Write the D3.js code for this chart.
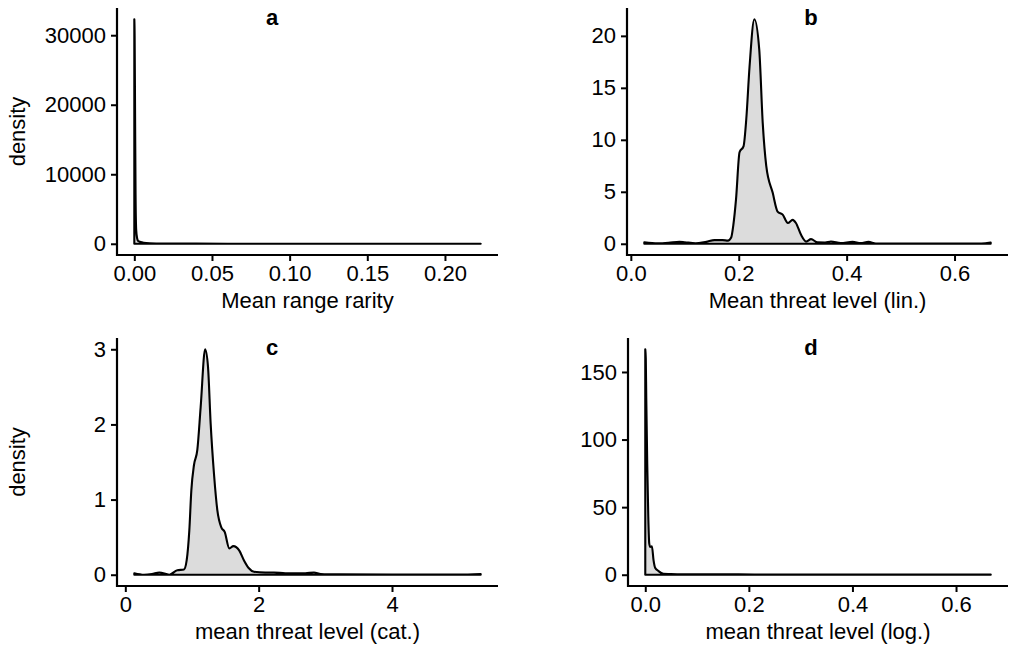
<!DOCTYPE html>
<html><head><meta charset="utf-8">
<script src="https://cdn.jsdelivr.net/npm/d3@7"></script>
<style>
body{margin:0;background:#fff;}
svg text{font-family:"Liberation Sans",Arial,sans-serif;fill:#000;}
</style></head>
<body><svg id="chart" width="1010" height="647"></svg>
<script>
// ---- data ----
const aX = [0, 0.0002, 0.0005, 0.0008, 0.0012, 0.0018, 0.0025, 0.004, 0.006, 0.01, 0.02, 0.04, 0.06, 0.1, 0.15, 0.2, 0.223];
const aY = [32300, 30000, 18000, 7000, 2000, 800, 400, 250, 150, 80, 40, 20, 10, 5, 2, 1, 0.5];

const bX = [0.025, 0.05, 0.07, 0.09, 0.1, 0.12, 0.14, 0.155, 0.17, 0.18, 0.186, 0.19, 0.195, 0.2015, 0.209, 0.214, 0.22, 0.229, 0.238, 0.2445, 0.251, 0.263, 0.272, 0.2815, 0.291, 0.300, 0.306, 0.3155, 0.325, 0.334, 0.346, 0.36, 0.371, 0.389, 0.411, 0.426, 0.4405, 0.454, 0.5, 0.55, 0.6, 0.65, 0.667];
const bY = [0.15, 0.05, 0.1, 0.2, 0.15, 0.05, 0.2, 0.35, 0.35, 0.3, 0.6, 1.8, 4.3, 8.8, 9.4, 12, 17, 21.6, 18.7, 11.6, 7.5, 4.9, 3.1, 2.8, 2.0, 2.3, 2.0, 0.86, 0.22, 0.45, 0.13, 0.12, 0.22, 0.06, 0.19, 0.06, 0.19, 0.03, 0.01, 0.01, 0.01, 0.01, 0.12];

const cX = [0.135, 0.28, 0.4, 0.51, 0.66, 0.78, 0.88, 0.92, 0.96, 0.99, 1.03, 1.08, 1.13, 1.197, 1.24, 1.28, 1.33, 1.38, 1.44, 1.49, 1.56, 1.62, 1.71, 1.78, 1.85, 1.93, 2.1, 2.23, 2.4, 2.53, 2.7, 2.83, 2.93, 3.2, 4.0, 5.0, 5.33];
const cY = [0.02, 0.0, 0.01, 0.03, 0.0, 0.06, 0.07, 0.19, 0.59, 1.12, 1.46, 1.66, 2.23, 3.0, 2.77, 2.01, 1.34, 0.86, 0.63, 0.57, 0.35, 0.38, 0.32, 0.19, 0.09, 0.04, 0.03, 0.03, 0.02, 0.02, 0.02, 0.03, 0.01, 0.005, 0.002, 0.002, 0.01];

const dX = [0.0, 0.001, 0.0019, 0.0038, 0.0058, 0.0077, 0.0096, 0.0128, 0.016, 0.019, 0.0256, 0.035, 0.048, 0.07, 0.1, 0.135, 0.18, 0.25, 0.4, 0.55, 0.667];
const dY = [166.8, 160, 131, 82, 43, 23, 20.5, 21, 10.6, 5.2, 2.7, 0.7, 0.5, 0.3, 0.4, 0.3, 0.3, 0.1, 0.05, 0.05, 0.2];

const aXTicks = [0, 0.05, 0.10, 0.15, 0.20];
const aYTicks = [0, 10000, 20000, 30000];
const bXTicks = [0, 0.2, 0.4, 0.6];
const bYTicks = [0, 5, 10, 15, 20];
const cXTicks = [0, 2, 4];
const cYTicks = [0, 1, 2, 3];
const dXTicks = [0, 0.2, 0.4, 0.6];
const dYTicks = [0, 50, 100, 150];

const panelTitles = ["a", "b", "c", "d"];
const xTitles = ["Mean range rarity", "Mean threat level (lin.)", "mean threat level (cat.)", "mean threat level (log.)"];
const yTitle = "density";

// ---- drawing ----
const svg = d3.select("#chart");
const FS = 22;

function expand(lo, hi) { const r = hi - lo; return [lo - 0.05 * r, hi + 0.05 * r]; }

function panel(cfg) {
  const {xs, ys, x0, x1, y0, y1, xTicks, yTicks, xFmt, yFmt, title, titleX, xTitle, showY} = cfg;
  const x = d3.scaleLinear().domain(expand(d3.min(xs), d3.max(xs))).range([x0, x1]);
  const y = d3.scaleLinear().domain(expand(0, d3.max(ys))).range([y1, y0]);
  const pts = xs.map((v, i) => [v, ys[i]]);
  const g = svg.append("g");
  const area = d3.area().x(d => x(d[0])).y0(y(0)).y1(d => y(d[1])).curve(d3.curveMonotoneX);
  const line = d3.line().x(d => x(d[0])).y(d => y(d[1])).curve(d3.curveMonotoneX);
  g.append("path").attr("d", area(pts)).attr("fill", "#dcdcdc").attr("stroke", "none");
  const outline = line(pts) + "L" + x(xs[xs.length - 1]) + "," + y(0) + "L" + x(xs[0]) + "," + y(0) + "Z";
  g.append("path").attr("d", outline).attr("fill", "none").attr("stroke", "#000").attr("stroke-width", 2.1).attr("stroke-linejoin", "round");

  const xa = g.append("g").attr("transform", `translate(0,${y1})`)
    .call(d3.axisBottom(x).tickValues(xTicks).tickFormat(xFmt).tickSize(6).tickPadding(4));
  const ya = g.append("g").attr("transform", `translate(${x0},0)`)
    .call(d3.axisLeft(y).tickValues(yTicks).tickFormat(yFmt).tickSize(6).tickPadding(5));
  [xa, ya].forEach(a => {
    a.select(".domain").remove();
    a.selectAll(".tick line").attr("stroke", "#000").attr("stroke-width", 2);
    a.selectAll(".tick text").style("font-size", FS + "px").attr("fill", "#000");
  });
  g.append("line").attr("x1", x0 - 1).attr("x2", x1).attr("y1", y1).attr("y2", y1).attr("stroke", "#000").attr("stroke-width", 2.2);
  g.append("line").attr("x1", x0).attr("x2", x0).attr("y1", y0).attr("y2", y1 + 1).attr("stroke", "#000").attr("stroke-width", 2.2);

  g.append("text").attr("x", titleX).attr("y", y0 + 17).attr("text-anchor", "middle")
    .style("font-size", FS + "px").style("font-weight", "bold").text(title);
  g.append("text").attr("x", (x0 + x1) / 2).attr("y", y1 + 53).attr("text-anchor", "middle")
    .style("font-size", FS + "px").text(xTitle);
  if (showY) {
    g.append("text").attr("transform", `translate(25,${(y0 + y1) / 2}) rotate(-90)`)
      .attr("text-anchor", "middle").style("font-size", FS + "px").text(yTitle);
  }
}

panel({xs: aX, ys: aY, x0: 117, x1: 498, y0: 8, y1: 255, xTicks: aXTicks, yTicks: aYTicks,
  xFmt: d3.format(".2f"), yFmt: d3.format("d"), title: panelTitles[0], titleX: 272, xTitle: xTitles[0], showY: true});
panel({xs: bX, ys: bY, x0: 627, x1: 1008, y0: 8, y1: 255, xTicks: bXTicks, yTicks: bYTicks,
  xFmt: d3.format(".1f"), yFmt: d3.format("d"), title: panelTitles[1], titleX: 811, xTitle: xTitles[1], showY: false});
panel({xs: cX, ys: cY, x0: 117, x1: 498, y0: 338, y1: 586, xTicks: cXTicks, yTicks: cYTicks,
  xFmt: d3.format("d"), yFmt: d3.format("d"), title: panelTitles[2], titleX: 272, xTitle: xTitles[2], showY: true});
panel({xs: dX, ys: dY, x0: 628, x1: 1008, y0: 338, y1: 586, xTicks: dXTicks, yTicks: dYTicks,
  xFmt: d3.format(".1f"), yFmt: d3.format("d"), title: panelTitles[3], titleX: 811, xTitle: xTitles[3], showY: false});
</script></body></html>
